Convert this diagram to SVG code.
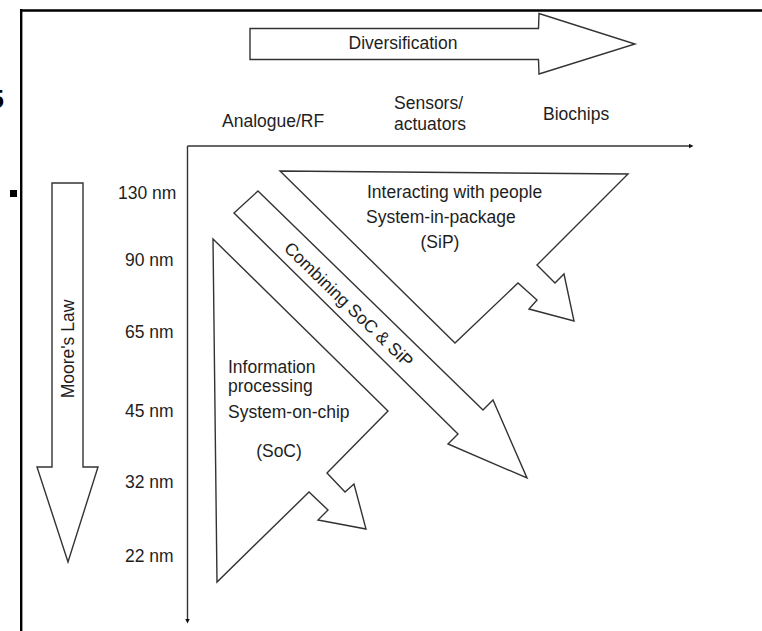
<svg xmlns="http://www.w3.org/2000/svg" width="762" height="631" viewBox="0 0 762 631">
  <defs>
    <style>
      .shape { fill: #ffffff; stroke: #333333; stroke-width: 1.4; stroke-linejoin: miter; }
      .lbl { font-family: "Liberation Sans", Arial, Helvetica, sans-serif; font-size: 17.5px; fill: #1e1e1e; }
      .axis { stroke: #333333; stroke-width: 1.4; fill: none; }
      .frame { stroke: #000000; fill: none; }
    </style>
    <marker id="dot" viewBox="0 0 6 6" refX="3" refY="3" markerWidth="5" markerHeight="5" markerUnits="userSpaceOnUse" orient="auto">
      <path d="M0,0 L6,3 L0,6 Z" fill="#111111"/>
    </marker>
  </defs>

  <rect x="0" y="0" width="762" height="631" fill="#ffffff"/>

  <!-- page frame and fragments -->
  <g id="frame">
    <line class="frame" x1="20" y1="10.5" x2="762" y2="10.5" stroke-width="2.6"/>
    <line class="frame" x1="21.2" y1="9" x2="21.2" y2="631" stroke-width="2.4"/>
    <rect x="10" y="190" width="7" height="7" fill="#000000"/>
    <text x="-10" y="108" font-family="Liberation Sans, Arial, sans-serif" font-size="25" font-weight="bold" fill="#000000">5</text>
  </g>

  <!-- connectors: axes -->
  <g id="connectors">
    <line class="axis" x1="187.5" y1="146" x2="691" y2="146" marker-end="url(#dot)"/>
    <line class="axis" x1="187.5" y1="146" x2="187.5" y2="621" marker-end="url(#dot)"/>
  </g>

  <g id="diversification">
    <polygon class="shape" points="250,28.5 538.5,28.5 539,13.5 635,44 539,74 538.5,59.5 250,59.5"/>
    <text class="lbl" x="403" y="49" text-anchor="middle">Diversification</text>
  </g>

  <g id="moores-law">
    <polygon class="shape" points="52,183 83,183 83,467 98,467 68,562 37,467 52,467"/>
    <text class="lbl" transform="translate(74,349) rotate(-90)" x="0" y="0" text-anchor="middle" font-size="19">Moore's Law</text>
  </g>

  <g id="categories">
    <text class="lbl" x="222" y="127">Analogue/RF</text>
    <text class="lbl" x="394" y="109">Sensors/</text>
    <text class="lbl" x="394" y="130">actuators</text>
    <text class="lbl" x="543" y="120">Biochips</text>
  </g>

  <g id="nodes-nm">
    <text class="lbl" x="118" y="199">130 nm</text>
    <text class="lbl" x="125" y="266">90 nm</text>
    <text class="lbl" x="125" y="338">65 nm</text>
    <text class="lbl" x="125" y="417">45 nm</text>
    <text class="lbl" x="125" y="488">32 nm</text>
    <text class="lbl" x="125" y="562">22 nm</text>
  </g>

  <g id="sip">
    <polygon class="shape" points="280,171 628,174 537,265 555,283 564,274 574,321 529,309 537,300 518,283 455,343"/>
    <text class="lbl" x="367" y="198">Interacting with people</text>
    <text class="lbl" x="366" y="223">System-in-package</text>
    <text class="lbl" x="440" y="248" text-anchor="middle">(SiP)</text>
  </g>

  <g id="soc">
    <polygon class="shape" points="213,239 388,411 327,473 345,492 354,484 366,529 318,520 328,510 309,492 217,582"/>
    <text class="lbl" x="228" y="373">Information</text>
    <text class="lbl" x="228" y="392">processing</text>
    <text class="lbl" x="228" y="418">System-on-chip</text>
    <text class="lbl" x="279" y="457" text-anchor="middle">(SoC)</text>
  </g>

  <g id="combining">
    <polygon class="shape" points="258,191 483,410 493,400 527,478 448,444 458,434 234,213"/>
    <text class="lbl" transform="translate(344.5,309) rotate(44)" x="0" y="0" text-anchor="middle">Combining SoC &amp; SiP</text>
  </g>
</svg>
